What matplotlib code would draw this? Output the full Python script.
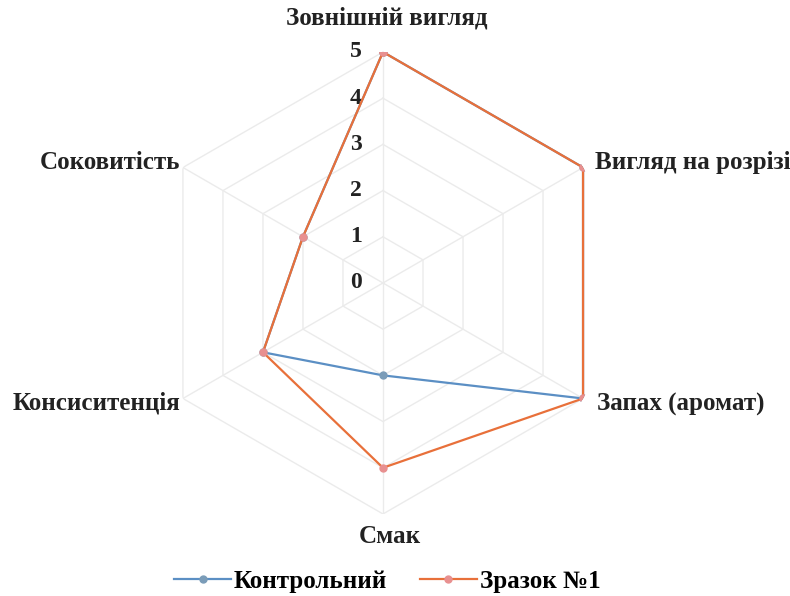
import numpy as np
import matplotlib.pyplot as plt
from matplotlib.transforms import offset_copy

plt.rcParams['font.family'] = ['Liberation Serif', 'DejaVu Serif']
plt.rcParams['font.weight'] = 'bold'

categories = ['Зовнішній вигляд', 'Вигляд на розрізі', 'Запах (аромат)',
              'Смак', 'Консиситенція', 'Соковитість']
control = [5, 5, 5, 2, 3, 2]
sample1 = [5, 5, 5, 4, 3, 2]
series_names = ['Контрольний', 'Зразок №1']
levels = [0, 1, 2, 3, 4, 5]

n = len(categories)
angles = np.linspace(0, 2 * np.pi, n, endpoint=False)
closed = np.append(angles, angles[0])

fig = plt.figure(figsize=(7.9, 5.96), dpi=100)
ax = fig.add_axes([0.1924, 0.1376, 0.5848, 0.7752], projection='polar')
ax.set_theta_offset(np.pi / 2)
ax.set_theta_direction(-1)
ax.set_ylim(0, 5)
ax.grid(False)
ax.spines['polar'].set_visible(False)
ax.set_xticks([])
ax.set_yticks([])

# hexagonal grid and spokes
for lv in levels[1:]:
    ax.plot(closed, [lv] * (n + 1), color='#ebebeb', lw=1.0, zorder=1)
for a in angles:
    ax.plot([a, a], [0, 5], color='#ebebeb', lw=1.0, zorder=1)

ax.plot(closed, control + control[:1], color='#5b8fc4', lw=1.6,
        marker='o', ms=5, mfc='#7a9cb8', mec='#7a9cb8',
        label=series_names[0], zorder=3)
ax.plot(closed, sample1 + sample1[:1], color='#e8703a', lw=1.6,
        marker='o', ms=5, mfc='#e89090', mec='#e89090',
        label=series_names[1], zorder=4)

# value labels along the top spoke
tick_tr = offset_copy(ax.transData, fig=fig, x=-27, y=0, units='dots')
for lv in levels:
    ax.text(0, lv, str(lv), transform=tick_tr, ha='center', va='center',
            fontsize=17, color='#222222')

# category labels around the chart (offsets in pixels from the outer vertex)
label_pos = [
    (4, 34, 'center'),
    (12, 5, 'left'),
    (14, -6, 'left'),
    (7, -23, 'center'),
    (-3, -5, 'right'),
    (-3, 5, 'right'),
]
for a, name, (dx, dy, ha) in zip(angles, categories, label_pos):
    tr = offset_copy(ax.transData, fig=fig, x=dx, y=dy, units='dots')
    ax.text(a, 5, name, transform=tr, ha=ha, va='center',
            fontsize=18, color='#222222')

fig.legend(loc='center', bbox_to_anchor=(0.49, 0.024), ncol=2,
           frameon=False, fontsize=18, handlelength=2.3, columnspacing=1.3,
           handletextpad=0.1, borderpad=0.1)

fig.savefig('out.png', dpi=100)
